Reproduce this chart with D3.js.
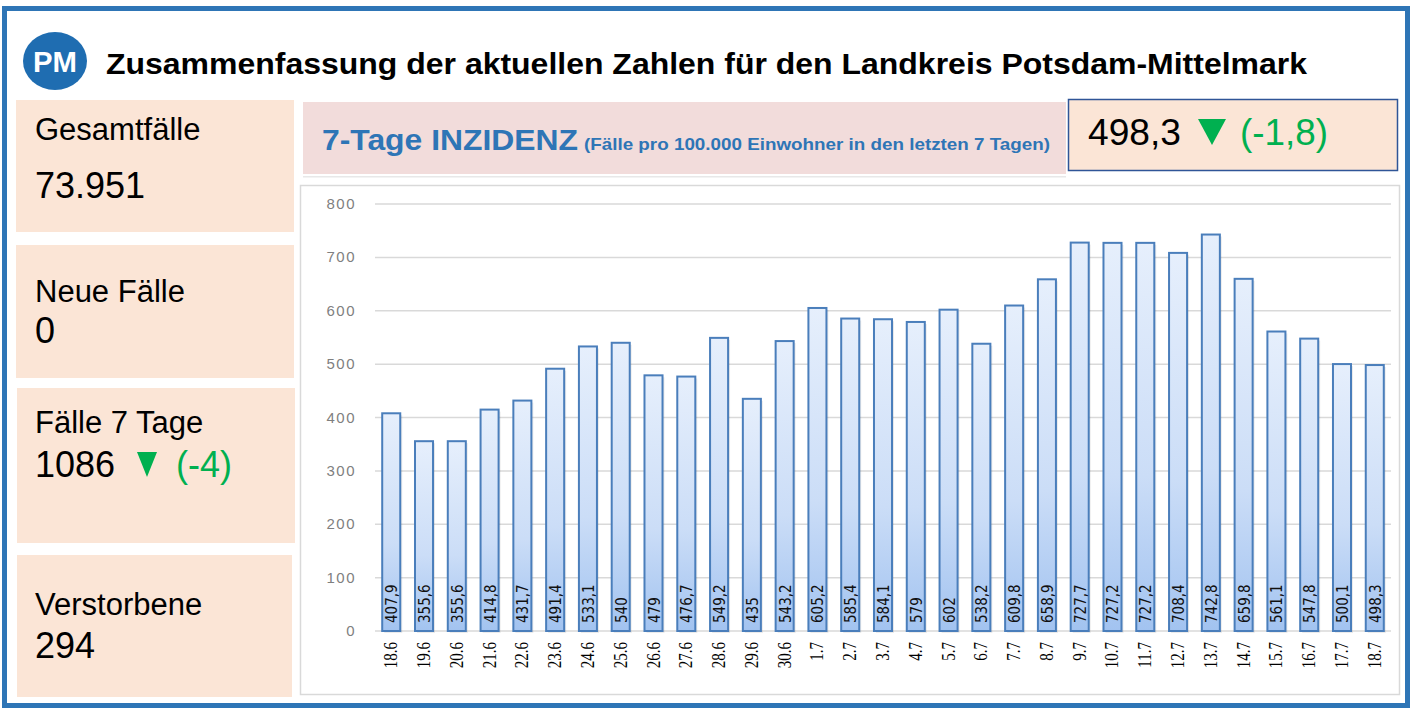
<!DOCTYPE html>
<html>
<head>
<meta charset="utf-8">
<script src="https://cdn.jsdelivr.net/npm/d3@7"></script>
<style>
  body { margin: 0; background: #fff; }
  svg { display: block; font-family: "Liberation Sans", Arial, sans-serif; }
</style>
</head>
<body>
<svg id="dash" width="1415" height="709"></svg>
<script>
/*** Data ***/
var dates = ["18.6","19.6","20.6","21.6","22.6","23.6","24.6","25.6","26.6","27.6","28.6","29.6","30.6",
  "1.7","2.7","3.7","4.7","5.7","6.7","7.7","8.7","9.7","10.7","11.7","12.7","13.7","14.7","15.7","16.7","17.7","18.7"];
var incidence = [407.9, 355.6, 355.6, 414.8, 431.7, 491.4, 533.1, 540, 479, 476.7, 549.2, 435, 543.2,
  605.2, 585.4, 584.1, 579, 602, 538.2, 609.8, 658.9, 727.7, 727.2, 727.2, 708.4, 742.8, 659.8, 561.1, 547.8, 500.1, 498.3];
var yTicks = [0, 100, 200, 300, 400, 500, 600, 700, 800];

var summaryLabels = ["Gesamtfälle", "Neue Fälle", "Fälle 7 Tage", "Verstorbene"];
var summaryValues = ["73.951", "0", "1086", "294"];
var summaryDeltas = [null, null, "(-4)", null];

var title = "Zusammenfassung der aktuellen Zahlen für den Landkreis Potsdam-Mittelmark";
var headMain = "7-Tage INZIDENZ";
var headSub = "(Fälle pro 100.000 Einwohner in den letzten 7 Tagen)";
var currentValue = "498,3";
var currentDelta = "(-1,8)";

/*** Helpers ***/
var fmt = d => String(d).replace(".", ",");
var blue = "#2E75B6",
    peach = "#FBE5D6",
    green = "#00B050";

var svg = d3.select("#dash");

function downTriangle(sel, x0, x1, y0, y1) {
  sel.append("path")
    .attr("d", "M" + x0 + "," + y0 + "L" + x1 + "," + y0 + "L" + ((x0 + x1) / 2) + "," + y1 + "Z")
    .attr("fill", green);
}

// outer frame
svg.append("rect")
  .attr("x", 4.5).attr("y", 8.5).attr("width", 1403).attr("height", 697)
  .attr("fill", "#fff").attr("stroke", blue).attr("stroke-width", 5);

// logo + title
svg.append("ellipse").attr("cx", 55).attr("cy", 61).attr("rx", 32).attr("ry", 29).attr("fill", "#1F6DB1");
svg.append("text").attr("x", 55).attr("y", 72).attr("text-anchor", "middle")
  .attr("font-size", 30).attr("font-weight", "bold").attr("fill", "#fff")
  .attr("textLength", 44).attr("lengthAdjust", "spacingAndGlyphs").text("PM");
svg.append("text").attr("x", 106).attr("y", 74)
  .attr("font-size", 29.5).attr("font-weight", "bold").attr("fill", "#000")
  .attr("textLength", 1201).attr("lengthAdjust", "spacingAndGlyphs").text(title);

/*** Left summary boxes ***/
var boxes = [
  {x: 16, y: 100, w: 278, h: 132, ly: 140, vy: 198},
  {x: 16, y: 245, w: 278, h: 133, ly: 302, vy: 343},
  {x: 17, y: 388, w: 278, h: 155, ly: 433, vy: 477},
  {x: 17, y: 555, w: 275, h: 142, ly: 615, vy: 658}
];
var bx = svg.append("g").selectAll("g").data(boxes).enter().append("g");
bx.append("rect").attr("x", d => d.x).attr("y", d => d.y).attr("width", d => d.w).attr("height", d => d.h)
  .attr("fill", peach);
bx.append("text").attr("x", 35).attr("y", d => d.ly).attr("font-size", 31).text((d, i) => summaryLabels[i]);
bx.append("text").attr("x", 35).attr("y", d => d.vy).attr("font-size", 36).text((d, i) => summaryValues[i]);
bx.filter((d, i) => summaryDeltas[i]).each(function(d, i) {
  var sel = d3.select(this);
  downTriangle(sel, 137, 157, d.vy - 25, d.vy);
  sel.append("text").attr("x", 176).attr("y", d.vy).attr("font-size", 36).attr("fill", green)
    .text(summaryDeltas[2]);
});

/*** Header for the chart ***/
svg.append("rect").attr("x", 303).attr("y", 176).attr("width", 763).attr("height", 1.5).attr("fill", "#e8e8e8");
svg.append("rect").attr("x", 303).attr("y", 102).attr("width", 763).attr("height", 72).attr("fill", "#F2DCDB");
svg.append("text").attr("x", 322).attr("y", 150).attr("fill", blue).attr("font-weight", "bold")
  .attr("font-size", 30).attr("textLength", 256).attr("lengthAdjust", "spacingAndGlyphs").text(headMain);
svg.append("text").attr("x", 584).attr("y", 150).attr("fill", blue).attr("font-weight", "bold")
  .attr("font-size", 17).attr("textLength", 466).attr("lengthAdjust", "spacingAndGlyphs").text(headSub);

svg.append("rect").attr("x", 1068.5).attr("y", 99.5).attr("width", 329).attr("height", 71)
  .attr("fill", peach).attr("stroke", "#2F5597").attr("stroke-width", 1.5);
svg.append("text").attr("x", 1088).attr("y", 145).attr("font-size", 36)
  .attr("textLength", 93).attr("lengthAdjust", "spacingAndGlyphs").text(currentValue);
downTriangle(svg, 1198, 1226, 119, 145);
svg.append("text").attr("x", 1240).attr("y", 145).attr("font-size", 36).attr("fill", green)
  .attr("textLength", 88).attr("lengthAdjust", "spacingAndGlyphs").text(currentDelta);

/*** Bar chart ***/
svg.append("rect").attr("x", 300.5).attr("y", 185.5).attr("width", 1099).attr("height", 509)
  .attr("fill", "#fff").attr("stroke", "#D9D9D9").attr("stroke-width", 1.5);

var defs = svg.append("defs");
var grad = defs.append("linearGradient").attr("id", "barGrad").attr("x1", 0).attr("y1", 0).attr("x2", 0).attr("y2", 1);
grad.append("stop").attr("offset", "0%").attr("stop-color", "#E6EFFC");
grad.append("stop").attr("offset", "60%").attr("stop-color", "#CBDDF7");
grad.append("stop").attr("offset", "100%").attr("stop-color", "#A2C3F0");

var x = d3.scaleBand().domain(dates).range([375, 1391]).paddingInner(0.45).paddingOuter(0.22);
var y = d3.scaleLinear().domain([0, 800]).range([631, 204]);

var g = svg.append("g");

// gridlines
g.append("g").selectAll("line").data(yTicks).enter().append("line")
  .attr("x1", 375).attr("x2", 1391)
  .attr("y1", d => y(d)).attr("y2", d => y(d))
  .attr("stroke", "#D9D9D9").attr("stroke-width", 1.5);

// y labels
g.append("g").selectAll("text").data(yTicks).enter().append("text")
  .attr("x", 356).attr("y", d => y(d) + 5).attr("text-anchor", "end")
  .attr("font-size", 15).attr("letter-spacing", 1.5).attr("fill", "#7F7F7F")
  .text(d => d);

// bars (with a faint shadow)
g.append("g").selectAll("rect").data(incidence).enter().append("rect")
  .attr("x", (d, i) => x(dates[i]) + 2).attr("y", d => y(d) + 2)
  .attr("width", x.bandwidth()).attr("height", d => y(0) - y(d))
  .attr("fill", "#000").attr("opacity", 0.08);
g.append("g").selectAll("rect").data(incidence).enter().append("rect")
  .attr("x", (d, i) => x(dates[i])).attr("y", d => y(d))
  .attr("width", x.bandwidth()).attr("height", d => y(0) - y(d))
  .attr("fill", "url(#barGrad)").attr("stroke", "#4A7EBB").attr("stroke-width", 2);

// value labels inside bars
g.append("g").selectAll("text").data(incidence).enter().append("text")
  .attr("transform", (d, i) => "translate(" + (x(dates[i]) + x.bandwidth() / 2 + 6) + ",623) rotate(-90)")
  .attr("font-family", "'Liberation Sans Narrow', 'DejaVu Sans Condensed', sans-serif")
  .attr("font-size", 15).attr("fill", "#111")
  .text(d => fmt(d));

// x labels
g.append("g").selectAll("text").data(dates).enter().append("text")
  .attr("transform", d => "translate(" + (x(d) + x.bandwidth() / 2 + 6) + ",642) rotate(-90) scale(1,1.25)")
  .attr("text-anchor", "end")
  .attr("font-family", "'Liberation Serif', serif")
  .attr("font-size", 15).attr("fill", "#000")
  .text(d => d);
</script>
</body>
</html>
